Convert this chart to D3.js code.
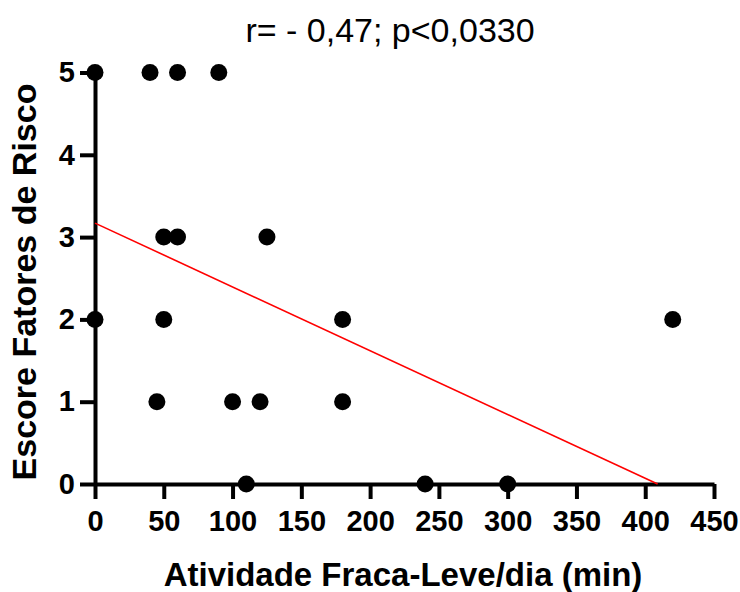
<!DOCTYPE html>
<html>
<head>
<meta charset="utf-8">
<script src="https://cdn.jsdelivr.net/npm/d3@7"></script>
<style>
	body { margin: 0; background: #fff; }
	text { font-family: "Liberation Sans", Arial, sans-serif; }
</style>
</head>
<body>
<svg id="canvas"></svg>
<script>
// data
const atividade = [0, 40, 60, 90, 50, 60, 125, 0, 50, 180, 420, 45, 100, 120, 180, 110, 240, 300];
const escore = [5, 5, 5, 5, 3, 3, 3, 2, 2, 2, 2, 1, 1, 1, 1, 0, 0, 0];
const xTicks = [0, 50, 100, 150, 200, 250, 300, 350, 400, 450];
const yTicks = [0, 1, 2, 3, 4, 5];
// fitted line ends (as drawn)
const lineX = [0, 409];
const lineY = [3.17, 0];

const w = 740;
const h = 592;
const plotLeft = 95, plotRight = 714, plotTop = 72.5, plotBottom = 484;

const svg = d3.select('#canvas').attr('width', w).attr('height', h);

const x = d3.scaleLinear().domain([0, 450]).range([plotLeft, plotRight]);
const y = d3.scaleLinear().domain([0, 5]).range([plotBottom, plotTop]);

//title
svg.append('text')
	.attr('x', 390)
	.attr('y', 42)
	.attr('text-anchor', 'middle')
	.style('font-size', '34px')
	.text('r= - 0,47; p<0,0330');

//axes
const xAxis = d3.axisBottom(x).tickValues(xTicks).tickFormat(d3.format('d'))
	.tickSize(15).tickSizeOuter(0).tickPadding(11);
const gx = svg.append('g').attr('transform', 'translate(0,' + plotBottom + ')').call(xAxis);

const yAxis = d3.axisLeft(y).tickValues(yTicks).tickFormat(d3.format('d'))
	.tickSize(15).tickSizeOuter(0).tickPadding(5);
const gy = svg.append('g').attr('transform', 'translate(' + plotLeft + ',0)').call(yAxis);

[gx, gy].forEach((g) => {
	g.select('.domain').attr('stroke', '#000').attr('stroke-width', 4);
	g.selectAll('.tick line').attr('stroke', '#000').attr('stroke-width', 4);
	g.selectAll('.tick text')
		.attr('fill', '#000')
		.style('font-family', '"Liberation Sans", Arial, sans-serif')
		.style('font-size', '29px')
		.style('font-weight', 'bold');
});

//regression line
svg.append('line')
	.attr('x1', x(lineX[0]))
	.attr('y1', y(lineY[0]))
	.attr('x2', x(lineX[1]))
	.attr('y2', y(lineY[1]))
	.attr('stroke', '#ff0000')
	.attr('stroke-width', 1.6);

//points
svg.selectAll('circle')
	.data(atividade)
	.enter()
	.append('circle')
	.attr('cx', (d) => x(d))
	.attr('cy', (d, i) => y(escore[i]))
	.attr('r', 8.5)
	.attr('fill', '#000');

//axis titles
svg.append('text')
	.attr('x', 403)
	.attr('y', 586)
	.attr('text-anchor', 'middle')
	.style('font-size', '33px')
	.style('font-weight', 'bold')
	.text('Atividade Fraca-Leve/dia (min)');

svg.append('text')
	.attr('transform', 'translate(36,282) rotate(-90)')
	.attr('text-anchor', 'middle')
	.style('font-size', '34px')
	.style('font-weight', 'bold')
	.text('Escore Fatores de Risco');
</script>
</body>
</html>
